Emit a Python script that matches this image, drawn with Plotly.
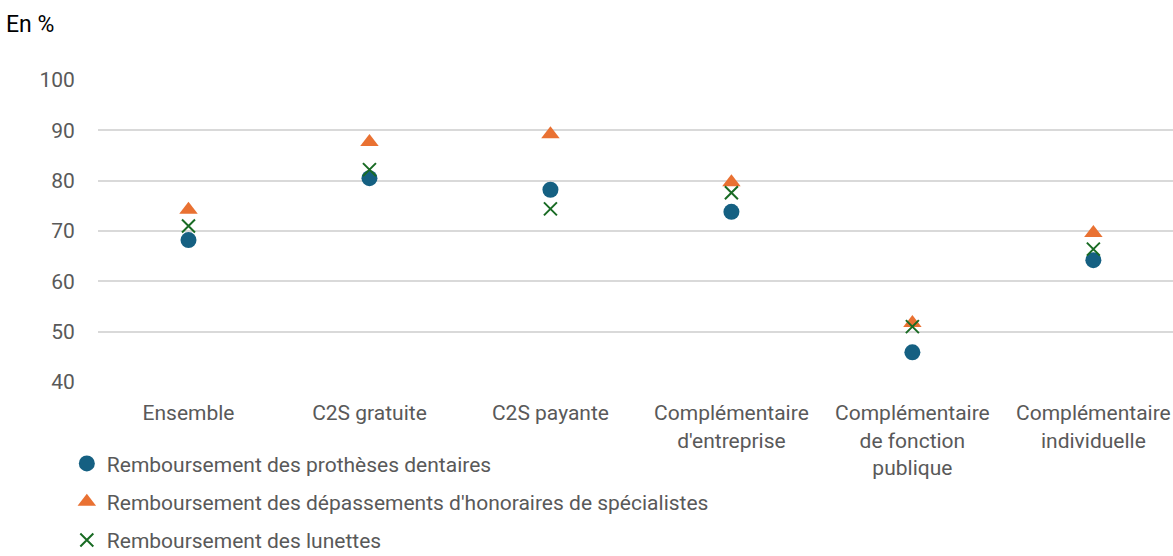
import plotly.graph_objects as go

categories = ["Ensemble", "C2S gratuite", "C2S payante",
              "Complémentaire<br>d'entreprise",
              "Complémentaire<br>de fonction<br>publique",
              "Complémentaire<br>individuelle"]
protheses = [68.2, 80.5, 78.2, 73.8, 45.9, 64.2]
depassements = [74.2, 87.7, 89.2, 79.7, 51.7, 69.6]
lunettes = [71.0, 82.2, 74.4, 77.6, 51.0, 66.4]

series_names = ["Remboursement des prothèses dentaires",
                "Remboursement des dépassements d'honoraires de spécialistes",
                "Remboursement des lunettes"]

FONT = "Roboto"
GREY = "#595959"

x_idx = list(range(len(categories)))

fig = go.Figure()
fig.add_trace(go.Scatter(x=x_idx, y=protheses, mode="markers", name=series_names[0],
                         legendgroup="a",
                         marker=dict(symbol="circle", size=16, color="#156082")))
fig.add_trace(go.Scatter(x=x_idx, y=depassements, mode="markers", name=series_names[1],
                         legendgroup="b",
                         marker=dict(symbol="triangle-up", size=16, color="#E97132")))
fig.add_trace(go.Scatter(x=x_idx, y=lunettes, mode="markers", name=series_names[2],
                         legendgroup="c",
                         marker=dict(symbol="x-thin", size=13, color="#196B24",
                                     line=dict(width=2, color="#196B24"))))

fig.update_layout(
    width=1173, height=556,
    margin=dict(l=98, r=0, t=80, b=174, autoexpand=False),
    paper_bgcolor="white", plot_bgcolor="white",
    font=dict(family=FONT, size=21, color=GREY),
    showlegend=True,
    legend=dict(orientation="v", x=-0.029, xanchor="left", y=-0.203, yanchor="top",
                font=dict(family=FONT, size=21, color=GREY),
                tracegroupgap=8, itemwidth=30, bgcolor="rgba(0,0,0,0)"),
    xaxis=dict(tickmode="array", tickvals=x_idx, ticktext=categories,
               range=[-0.5, 5.44], showgrid=False, zeroline=False, showline=False,
               ticks="outside", ticklen=12, tickcolor="rgba(0,0,0,0)",
               tickfont=dict(family=FONT, size=21, color=GREY)),
    yaxis=dict(range=[40, 100], tickvals=[40, 50, 60, 70, 80, 90, 100],
               showgrid=True, gridcolor="#D9D9D9", gridwidth=1.5,
               zeroline=False, showline=False,
               ticks="outside", ticklen=18, tickcolor="rgba(0,0,0,0)",
               tickfont=dict(family=FONT, size=21, color=GREY)),
    annotations=[dict(text="En %", xref="paper", yref="paper", x=-0.087, y=1.185,
                      xanchor="left", yanchor="middle", showarrow=False,
                      font=dict(family=FONT, size=23, color="black"))],
)

fig.write_html("out.html", config={"displayModeBar": False},
               post_script="document.body.style.margin='0px';")
